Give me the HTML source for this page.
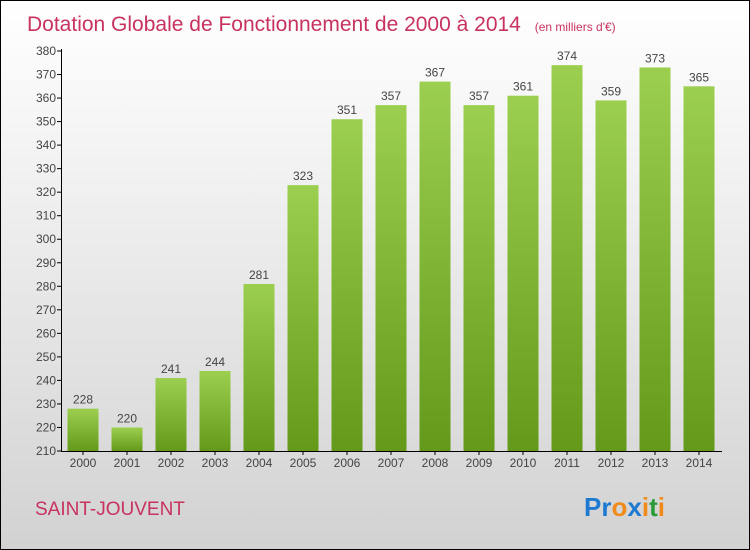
<!DOCTYPE html>
<html><head><meta charset="utf-8"><style>
body{margin:0}
#c{width:750px;height:550px;position:relative;box-sizing:border-box;border:1px solid #000;background:linear-gradient(#ffffff,#f2f2f2 30%,#d2d2d2);overflow:hidden;font-family:"Liberation Sans",sans-serif}
</style></head><body>
<div id="c">
<svg id="s" width="750" height="550" style="position:absolute;left:0;top:0">
<defs><linearGradient id="g" x1="0" y1="0" x2="0" y2="1"><stop offset="0" stop-color="#9ccf4f"/><stop offset="1" stop-color="#64991a"/></linearGradient></defs>
<text x="26" y="30" font-size="21" fill="#c8325f">Dotation Globale de Fonctionnement de 2000 à 2014 <tspan font-size="12" dx="8">(en milliers d'€)</tspan></text>
<text x="34" y="514" font-size="19" fill="#c8325f">SAINT-JOUVENT</text>
<g font-size="26" font-weight="bold"><text x="583" y="515" fill="#1e7ad0">Pr<tspan fill="#f08a1a">o</tspan><tspan fill="#1e7ad0">x</tspan><tspan fill="#f08a1a">i</tspan><tspan fill="#2a9a3a">t</tspan><tspan fill="#f08a1a">i</tspan></text></g>
</svg>
</div>
<script>
const categories=["2000","2001","2002","2003","2004","2005","2006","2007","2008","2009","2010","2011","2012","2013","2014"];
const values=[228,220,241,244,281,323,351,357,367,357,361,374,359,373,365];
const yTicks=[210,220,230,240,250,260,270,280,290,300,310,320,330,340,350,360,370,380];
const s=document.getElementById('s');
const NS='http://www.w3.org/2000/svg';
const y=v=>450-(v-210)*400/170;
const x=i=>82+i*44;
function mk(t,a){const e=document.createElementNS(NS,t);for(const k in a)e.setAttribute(k,a[k]);s.appendChild(e);return e;}
yTicks.forEach(v=>{
 const l=mk('line',{x1:56,x2:61,y1:y(v),y2:y(v),stroke:'#000'});
 
 
 const t=mk('text',{x:55,y:y(v)+4,'font-size':12,fill:'#444','text-anchor':'end'});t.textContent=v;
 
 
});
categories.forEach((c,i)=>{
 const r=mk('rect',{x:x(i)-15.5,y:y(values[i]),width:31,height:450-y(values[i]),fill:'url(#g)'});
 
 
 const t=mk('text',{x:x(i),y:y(values[i])-5,'font-size':12,fill:'#444','text-anchor':'middle'});t.textContent=values[i];
 
 
 const tk=mk('line',{x1:x(i),x2:x(i),y1:450,y2:454,stroke:'#000'});
 
 
 const xl=mk('text',{x:x(i),y:466,'font-size':12,fill:'#444','text-anchor':'middle'});xl.textContent=c;
 
 
});
const ya=mk('line',{x1:60.5,x2:60.5,y1:48,y2:450,stroke:'#000'});


const xa=mk('line',{x1:60,x2:721,y1:450.5,y2:450.5,stroke:'#000'});


</script>
</body></html>
